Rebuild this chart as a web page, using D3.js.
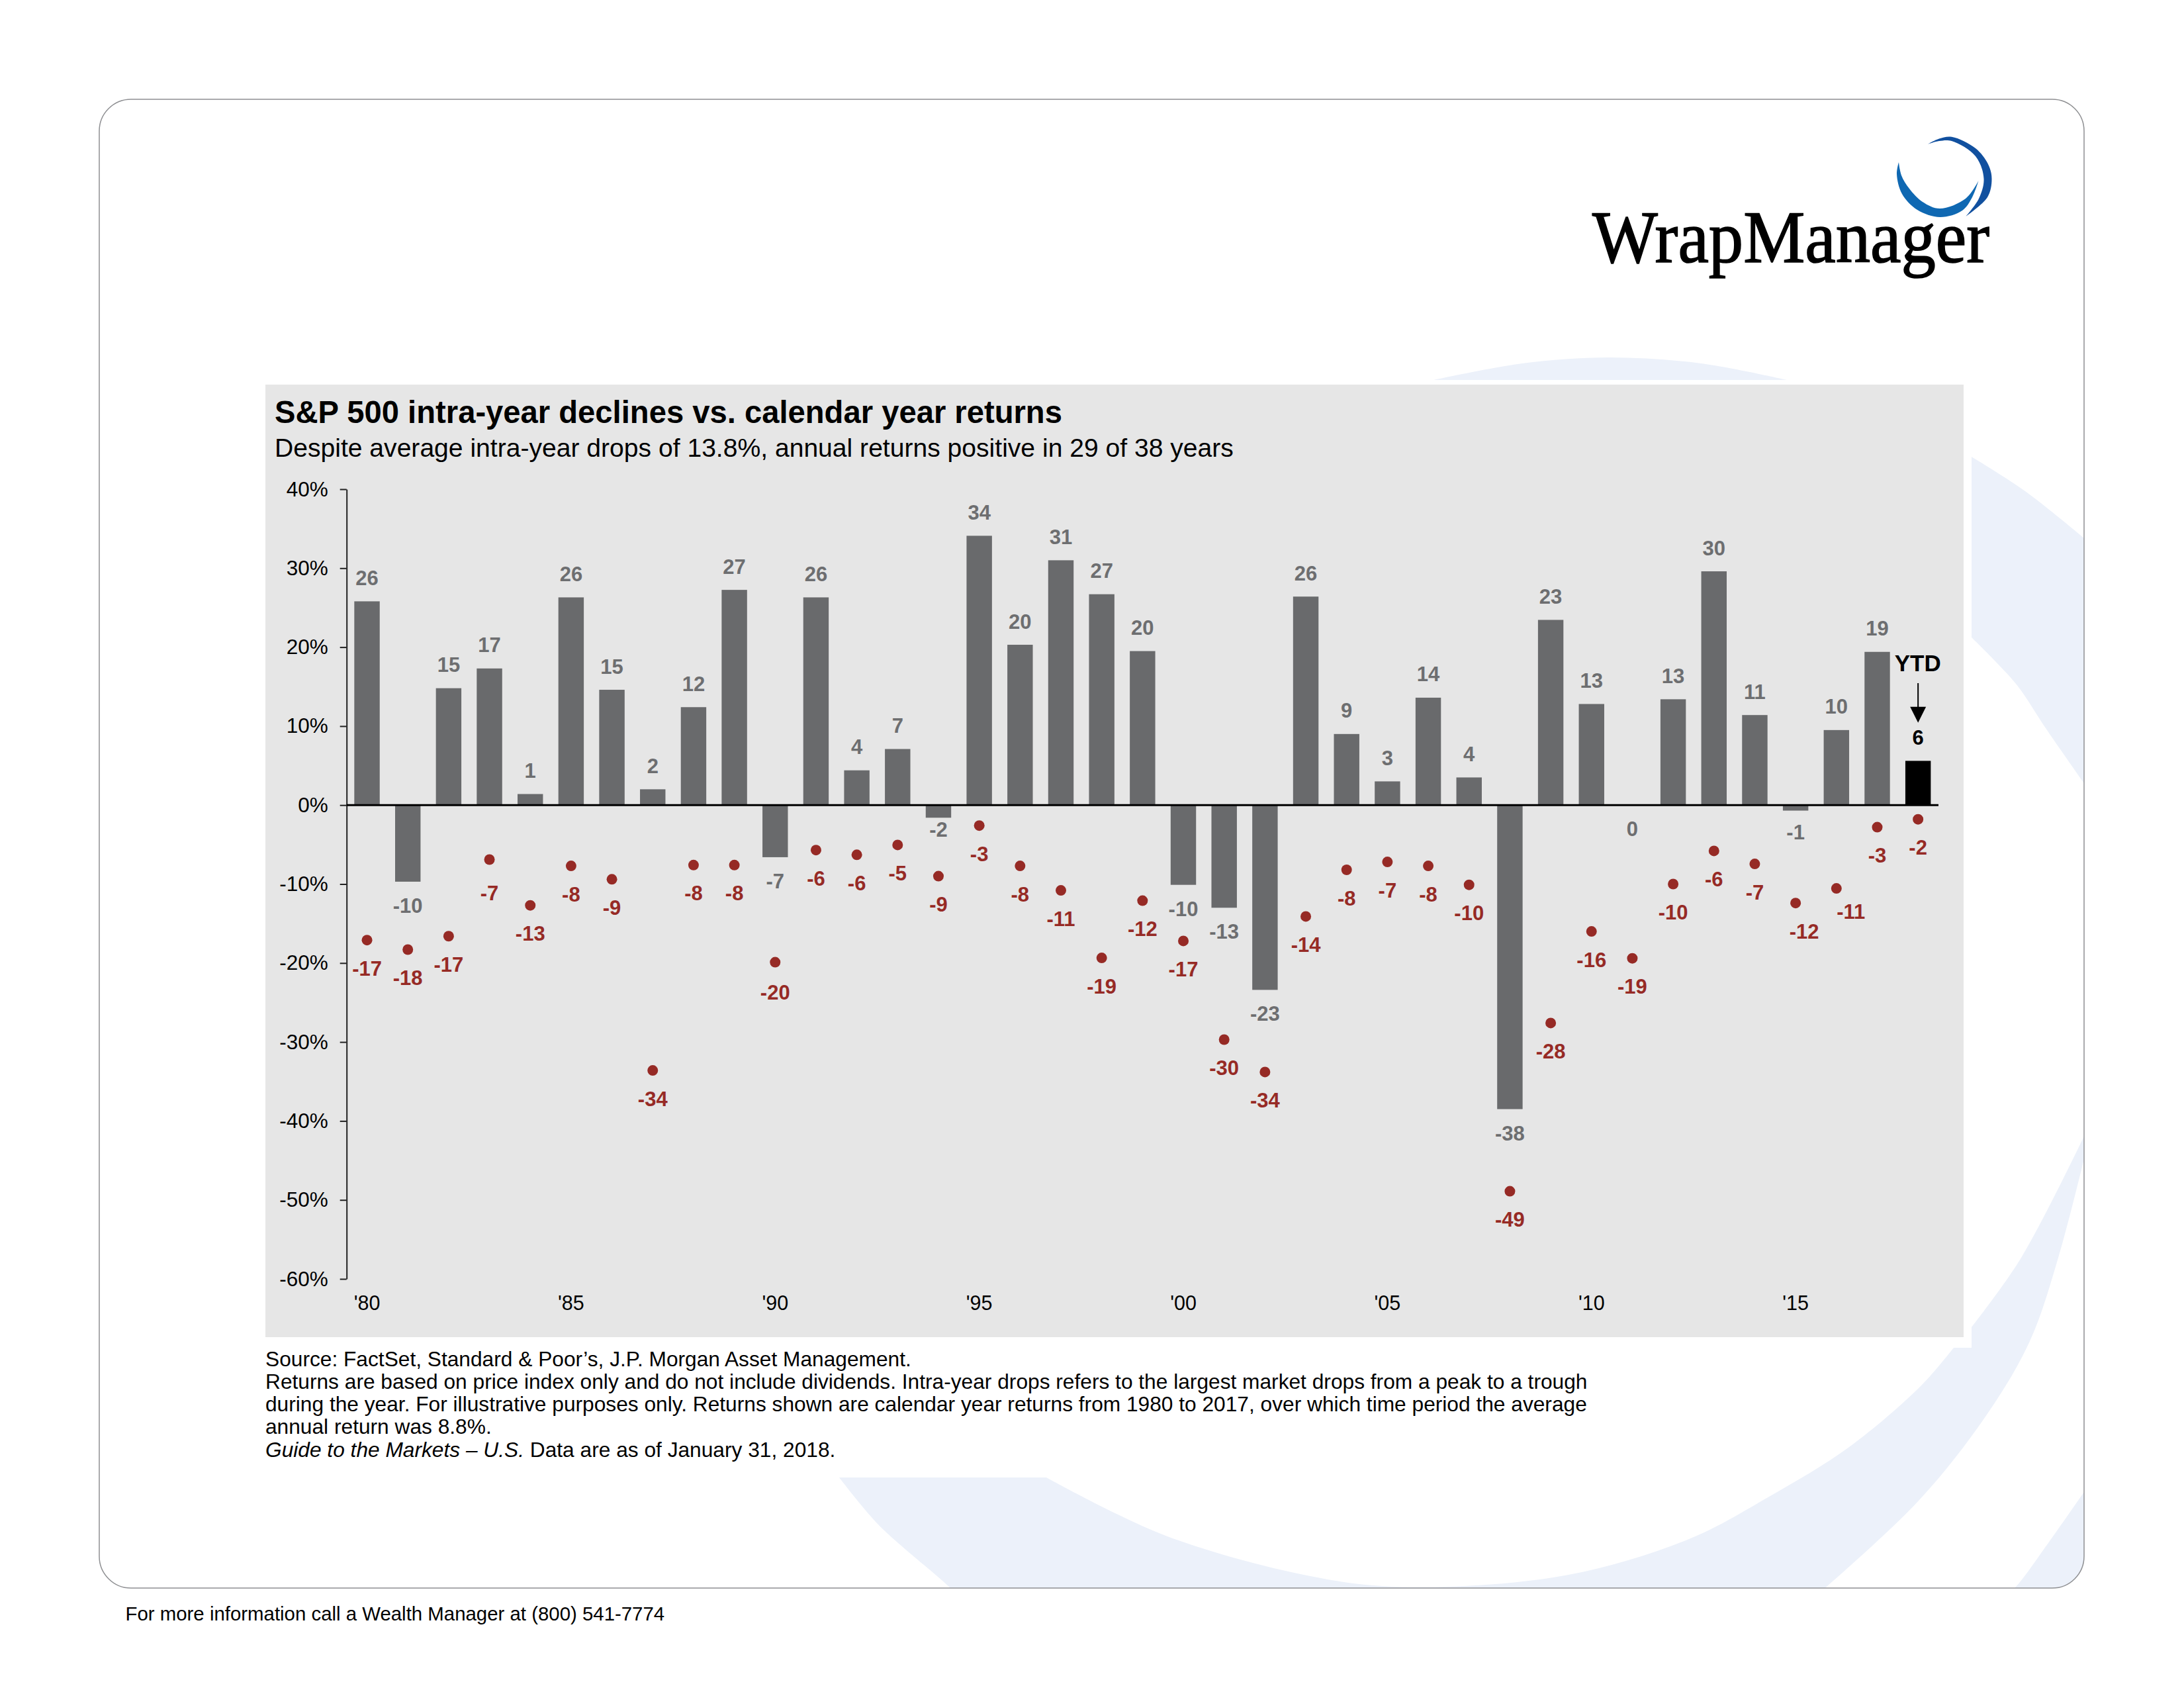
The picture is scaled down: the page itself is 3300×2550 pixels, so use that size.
<!DOCTYPE html>
<html>
<head>
<meta charset="utf-8">
<title>S&amp;P 500 intra-year declines vs. calendar year returns</title>
<script src="https://d3js.org/d3.v7.min.js"></script>
<style>
  html, body { margin: 0; padding: 0; background: #fff; }
  svg { display: block; }
  text { font-family: "Liberation Sans", Arial, sans-serif; }
</style>
</head>
<body>
<div id="chart"></div>
<script>
// chart values
var years = [1980,1981,1982,1983,1984,1985,1986,1987,1988,1989,1990,1991,1992,
             1993,1994,1995,1996,1997,1998,1999,2000,2001,2002,2003,2004,2005,
             2006,2007,2008,2009,2010,2011,2012,2013,2014,2015,2016,2017,2018];
var annualReturns = [25.8,-9.7,14.8,17.3,1.4,26.3,14.6,2.0,12.4,27.25,-6.6,26.3,4.4,
                     7.1,-1.6,34.1,20.3,31.0,26.7,19.5,-10.1,-13.0,-23.4,26.4,9.0,3.0,
                     13.6,3.5,-38.5,23.45,12.8,0.0,13.4,29.6,11.4,-0.7,9.5,19.4,5.6];
var intraYearDrops = [-17.1,-18.3,-16.6,-6.9,-12.7,-7.7,-9.4,-33.6,-7.6,-7.6,-19.9,-5.7,-6.3,
                      -5.05,-9.0,-2.6,-7.7,-10.8,-19.35,-12.1,-17.2,-29.7,-33.8,-14.1,-8.2,-7.2,
                      -7.7,-10.1,-48.9,-27.6,-16.0,-19.4,-10.0,-5.8,-7.45,-12.4,-10.55,-2.8,-1.8];
var yTicks = [40,30,20,10,0,-10,-20,-30,-40,-50,-60];
var xTicks = [1980,1985,1990,1995,2000,2005,2010,2015];

var titleText = "S&P 500 intra-year declines vs. calendar year returns";
var subtitleText = "Despite average intra-year drops of 13.8%, annual returns positive in 29 of 38 years";
var footnotes = [
  "Source: FactSet, Standard & Poor\u2019s, J.P. Morgan Asset Management.",
  "Returns are based on price index only and do not include dividends. Intra-year drops refers to the largest market drops from a peak to a trough",
  "during the year. For illustrative purposes only. Returns shown are calendar year returns from 1980 to 2017, over which time period the average",
  "annual return was 8.8%."
];

// labels that sit off the regular spot in the original
var returnLabelNudge = {1994: -18, 2015: -3.5};
var dropLabelNudge = {2015: 13, 2016: 22};
var dropLabelNudgeY = {1983: 8, 1990: 3, 2016: -8};

var svg = d3.select("#chart").append("svg")
  .attr("width", 3300)
  .attr("height", 2550);

svg.append("rect").attr("width", 3300).attr("height", 2550).attr("fill", "#fff");

var frame = {left: 150, right: 3149, top: 150, bottom: 2399, r: 48};
var panel = {left: 401, right: 2967, top: 581, bottom: 2020};

svg.append("clipPath").attr("id", "frameClip")
  .append("rect")
  .attr("x", frame.left).attr("y", frame.top)
  .attr("width", frame.right - frame.left).attr("height", frame.bottom - frame.top)
  .attr("rx", frame.r).attr("ry", frame.r);

// background swirl, traced edge by edge
var edge = d3.line().curve(d3.curveCatmullRom.alpha(0.5));
function outline() {
  var parts = [];
  for (var i = 0; i < arguments.length; i++) {
    var s = edge(arguments[i]);
    parts.push(i === 0 ? s : "L" + s.slice(1));
  }
  return parts.join("") + "Z";
}

var swirl = svg.append("g").attr("clip-path", "url(#frameClip)").attr("fill", "#ECF1FA");
swirl.append("path").attr("d", outline(
  [[2166,574],[2300,549],[2431,540],[2570,549],[2700,574]]
));
swirl.append("path").attr("d", outline(
  [[2979,690],[3060,742],[3155,818]],
  [[3155,1192],[3091,1100],[3046,1033],[2979,963]]
));
swirl.append("path").attr("d", outline(
  [[1268,2232],[1581,2232]],
  [[1581,2232],[1764,2321],[2006,2386],[2151,2397.5],[2370,2379],[2552,2325],[2673,2261],[2794,2186],[2903,2093],[2952,2036]],
  [[2979,2036],[2979,2005]],
  [[2979,2005],[3054,1900],[3155,1704]],
  [[3155,1726],[3110,1900],[3067,2026],[3000,2140],[2900,2266],[2760,2397],[2745,2410]],
  [[1445,2410],[1435,2398],[1327,2303],[1268,2232]]
));
swirl.append("path").attr("d", outline(
  [[3030,2410],[3046,2397],[3097,2328],[3155,2245]],
  [[3155,2410]]
));

// frame
svg.append("rect")
  .attr("x", frame.left).attr("y", frame.top)
  .attr("width", frame.right - frame.left).attr("height", frame.bottom - frame.top)
  .attr("rx", frame.r).attr("ry", frame.r)
  .attr("fill", "none")
  .attr("stroke", "#8E8F92")
  .attr("stroke-width", 1.5);

// logo
var logo = svg.append("g");
logo.append("path").attr("fill", "#11509F").attr("d", outline(
  [[2913,217.7],[2930,209.5],[2949,206.7],[2985,224],[3004,248],[3009.5,270],[3003,298],[2970.5,326.7]],
  [[2970.5,326.7],[2990,300],[2997.5,270],[2985,236],[2949,213],[2930,213],[2913,217.7]]
));
logo.append("path").attr("fill", "#0F68B2").attr("d", outline(
  [[2869,245],[2866,263],[2874,293],[2897,317],[2931.5,328],[2965,318],[2980,298],[2989.5,273]],
  [[2989.5,273],[2970,300],[2931,315],[2905,305],[2885,285],[2873,265],[2869,245]]
));
logo.append("text")
  .attr("x", 2406).attr("y", 395.7)
  .attr("textLength", 600)
  .attr("lengthAdjust", "spacingAndGlyphs")
  .style("font-family", "'Liberation Serif', serif")
  .style("font-size", "112px")
  .attr("fill", "#000")
  .attr("stroke", "#000")
  .attr("stroke-width", 1.6)
  .text("WrapManager");

// panel
svg.append("rect")
  .attr("x", panel.left).attr("y", panel.top)
  .attr("width", panel.right - panel.left).attr("height", panel.bottom - panel.top)
  .attr("fill", "#E6E6E6");

svg.append("text")
  .attr("x", 415).attr("y", 639)
  .style("font-size", "47.2px").style("font-weight", "bold")
  .attr("fill", "#000")
  .text(titleText);
svg.append("text")
  .attr("x", 415).attr("y", 690)
  .style("font-size", "39.1px")
  .attr("fill", "#000")
  .text(subtitleText);

// scales
var x = d3.scaleBand()
  .domain(years)
  .range([523.7, 2929])
  .paddingInner(0.377)
  .paddingOuter(0.1885);
var y = d3.scaleLinear()
  .domain([-60, 40])
  .range([1932, 739]);

var data = years.map(function (yr, i) {
  return {year: yr, ret: annualReturns[i], drop: intraYearDrops[i]};
});
var lastYear = years[years.length - 1];
function cx(d) { return x(d.year) + x.bandwidth() / 2; }

// bars
svg.append("g").selectAll("rect")
  .data(data)
  .enter().append("rect")
  .attr("x", function (d) { return x(d.year); })
  .attr("y", function (d) { return y(Math.max(0, d.ret)); })
  .attr("width", x.bandwidth())
  .attr("height", function (d) { return Math.abs(y(d.ret) - y(0)); })
  .attr("fill", function (d) { return d.year === lastYear ? "#000" : "#696A6C"; });

// y axis
var yAxis = svg.append("g")
  .attr("transform", "translate(523.7,0)")
  .call(d3.axisLeft(y)
    .tickValues(yTicks)
    .tickSize(10)
    .tickSizeOuter(0)
    .tickPadding(18)
    .tickFormat(function (d) { return d + "%"; }));
yAxis.selectAll("path, line").attr("stroke", "#222").attr("stroke-width", 2);
yAxis.selectAll("text").style("font-size", "31.5px").attr("fill", "#000");

// x labels
var xAxis = svg.append("g")
  .attr("transform", "translate(0,1932)")
  .call(d3.axisBottom(x)
    .tickValues(xTicks)
    .tickSize(0)
    .tickPadding(25)
    .tickFormat(function (d) { return "'" + String(d).slice(2); }));
xAxis.select(".domain").remove();
xAxis.selectAll("text").style("font-size", "30.5px").attr("fill", "#000");

// zero line
svg.append("line")
  .attr("x1", x.range()[0]).attr("x2", x.range()[1])
  .attr("y1", y(0)).attr("y2", y(0))
  .attr("stroke", "#000")
  .attr("stroke-width", 3);

// return labels
svg.append("g").selectAll("text")
  .data(data)
  .enter().append("text")
  .attr("x", cx)
  .attr("y", function (d) {
    var nudge = returnLabelNudge[d.year] || 0;
    return d.ret > 0 ? y(d.ret) - 24.5 : y(d.ret) + 47 + nudge;
  })
  .attr("text-anchor", "middle")
  .style("font-size", "31px")
  .style("font-weight", "bold")
  .attr("fill", function (d) { return d.year === lastYear ? "#000" : "#6D6E70"; })
  .text(function (d) { return Math.round(d.ret); });

// intra-year drops
svg.append("g").selectAll("circle")
  .data(data)
  .enter().append("circle")
  .attr("cx", cx)
  .attr("cy", function (d) { return y(d.drop); })
  .attr("r", 8)
  .attr("fill", "#962A25");

svg.append("g").selectAll("text")
  .data(data)
  .enter().append("text")
  .attr("x", function (d) { return cx(d) + (dropLabelNudge[d.year] || 0); })
  .attr("y", function (d) { return y(d.drop) + 53.5 + (dropLabelNudgeY[d.year] || 0); })
  .attr("text-anchor", "middle")
  .style("font-size", "31px")
  .style("font-weight", "bold")
  .attr("fill", "#962A25")
  .text(function (d) { return Math.round(d.drop); });

// YTD callout
var ytdX = x(lastYear) + x.bandwidth() / 2;
svg.append("text")
  .attr("x", ytdX - 0.5).attr("y", 1014.3)
  .attr("text-anchor", "middle")
  .style("font-size", "35px").style("font-weight", "bold")
  .attr("fill", "#000")
  .text("YTD");
svg.append("line")
  .attr("x1", ytdX).attr("x2", ytdX)
  .attr("y1", 1032).attr("y2", 1070)
  .attr("stroke", "#000").attr("stroke-width", 2);
svg.append("path")
  .attr("d", d3.line()([[ytdX - 12, 1067.7], [ytdX + 12, 1067.7], [ytdX, 1091.7]]) + "Z")
  .attr("fill", "#000");

// footnotes
var notes = svg.append("g").style("font-size", "31.7px").attr("fill", "#000");
footnotes.forEach(function (line, i) {
  notes.append("text").attr("x", 401).attr("y", 2063.5 + i * 34.3).text(line);
});
var lastNote = notes.append("text").attr("x", 401).attr("y", 2063.5 + 4 * 34.3);
lastNote.append("tspan").style("font-style", "italic").text("Guide to the Markets \u2013 U.S.");
lastNote.append("tspan").text(" Data are as of January 31, 2018.");

svg.append("text")
  .attr("x", 189.5).attr("y", 2448)
  .style("font-size", "29.4px")
  .attr("fill", "#000")
  .text("For more information call a Wealth Manager at (800) 541-7774");
</script>
</body>
</html>
